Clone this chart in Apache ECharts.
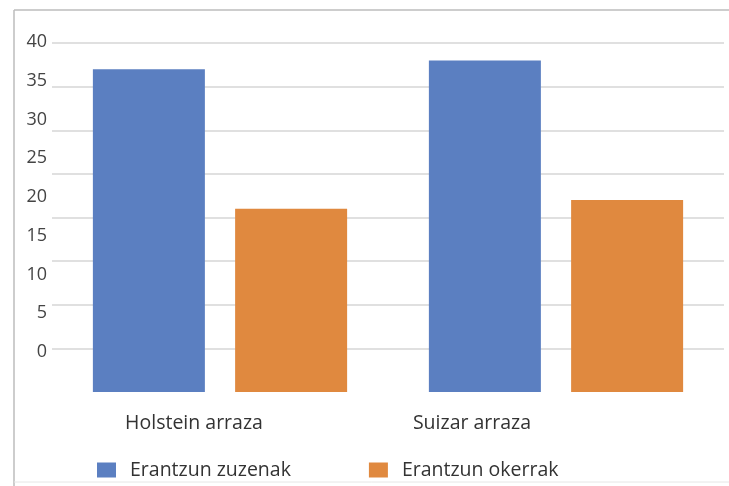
<!DOCTYPE html>
<html>
<head>
<meta charset="utf-8">
<script src="https://cdn.jsdelivr.net/npm/echarts@6/dist/echarts.min.js"></script>
<style>
  html, body { margin: 0; padding: 0; background: #fff; }
  #chart { width: 729px; height: 486px; }
</style>
</head>
<body>
<div id="chart"></div>
<script>
// data
var categories = ["Holstein arraza", "Suizar arraza"];
var seriesNames = ["Erantzun zuzenak", "Erantzun okerrak"];
var zuzenak = [37, 38];
var okerrak = [21, 22];
var yTicks = [0, 5, 10, 15, 20, 25, 30, 35, 40];

var color = ["#5b7fc1", "#e0893f"];
var font = "Open Sans";

var chart = echarts.init(document.getElementById("chart"));

chart.setOption({
  backgroundColor: "#fff",
  color: color,
  animation: false,
  textStyle: { fontFamily: font },
  legend: {
    left: 92,
    top: 455,
    itemWidth: 19,
    itemHeight: 15,
    itemGap: 78,
    icon: "rect",
    textStyle: { color: "#333", fontSize: 19.5, fontFamily: font, padding: [0, 0, 0, 9] },
    data: seriesNames,
  },
  graphic: [
    // outer frame of the picture
    { type: "line", shape: { x1: 14, y1: 10, x2: 729, y2: 10 }, style: { stroke: "#bdbdbd", lineWidth: 1.5 } },
    { type: "line", shape: { x1: 14, y1: 10, x2: 14, y2: 486 }, style: { stroke: "#bdbdbd", lineWidth: 1.5 } },
    { type: "line", shape: { x1: 14, y1: 482, x2: 729, y2: 482 }, style: { stroke: "#e6e6e6", lineWidth: 1 } },
  ],
  grid: [
    // bars
    { left: 52, right: 5, top: 43, bottom: 94 },
    // labels layer
    { left: 55, width: 556, top: 42, bottom: 134 },
  ],
  xAxis: [
    {
      gridIndex: 0,
      type: "category",
      data: categories,
      axisLine: { show: false },
      axisTick: { show: false },
      axisLabel: { show: false },
    },
    {
      gridIndex: 1,
      type: "category",
      data: categories,
      axisLine: { show: false },
      axisTick: { show: false },
      axisLabel: { color: "#333", fontSize: 19.5, margin: 61, fontFamily: font },
    },
  ],
  yAxis: [
    {
      gridIndex: 0,
      type: "value",
      min: 0,
      max: 40,
      interval: 5,
      axisLabel: { show: false },
      axisLine: { show: false },
      splitLine: { showMinLine: false, lineStyle: { color: "#d6d6d6", width: 1.5 } },
    },
    {
      gridIndex: 1,
      type: "value",
      min: yTicks[0],
      max: yTicks[yTicks.length - 1],
      interval: 5,
      axisLine: { show: false },
      splitLine: { show: false },
      axisLabel: { color: "#444", fontSize: 18, margin: 8, fontFamily: font },
    },
  ],
  series: [
    {
      name: seriesNames[0],
      type: "bar",
      xAxisIndex: 0,
      yAxisIndex: 0,
      barWidth: 112,
      barGap: "27%",
      data: zuzenak,
    },
    {
      name: seriesNames[1],
      type: "bar",
      xAxisIndex: 0,
      yAxisIndex: 0,
      barWidth: 112,
      barGap: "27%",
      data: okerrak,
    },
  ],
});
</script>
</body>
</html>
